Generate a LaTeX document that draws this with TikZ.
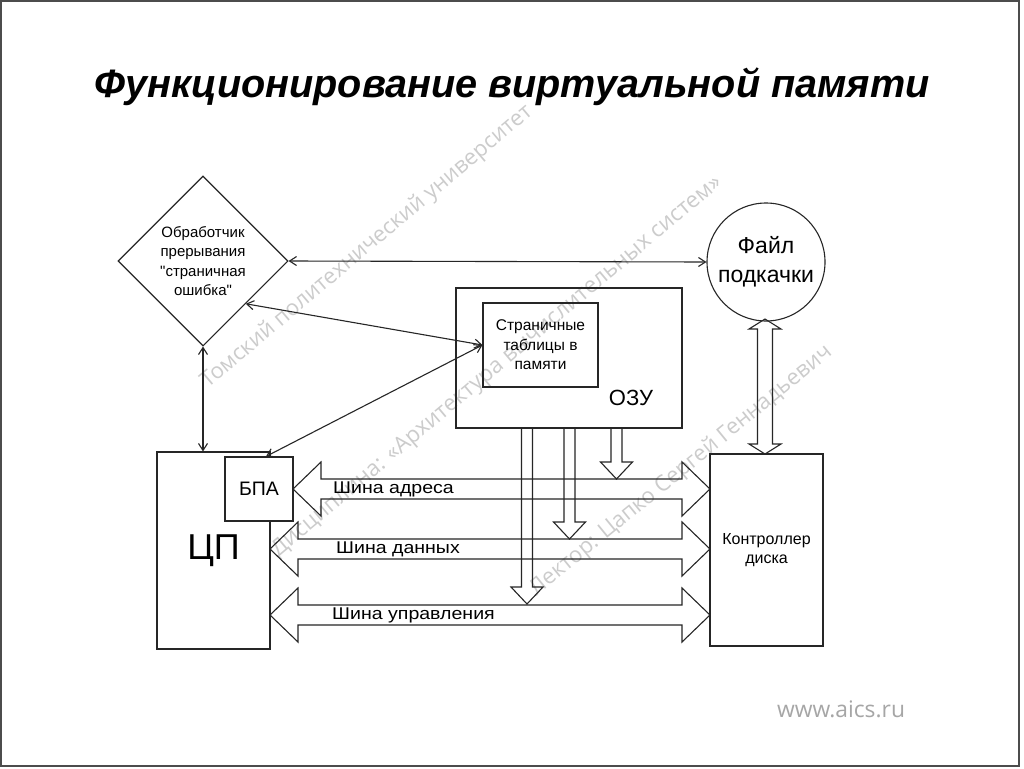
\documentclass[tikz,border=0pt]{standalone}
\usepackage{fontspec}
\setmainfont{Liberation Sans}[Ligatures=TeXOff]
\newfontfamily\wmfont{Open Sans}
\usepackage{graphicx}
\usetikzlibrary{arrows.meta,shapes.geometric}
\newcommand\myhbus[3]{%
  \draw[bus] (#1,#3) -- (#1+28,#3-27) -- (#1+28,#3-10) -- (#2-28,#3-10) -- (#2-28,#3-27) -- (#2,#3)
    -- (#2-28,#3+27) -- (#2-28,#3+10) -- (#1+28,#3+10) -- (#1+28,#3+27) -- cycle;}
\newcommand\mydown[3]{%
  \draw[bus] (#1-5.5,#2) -- (#1-5.5,#3-17) -- (#1-16,#3-17) -- (#1,#3) -- (#1+16,#3-17)
    -- (#1+5.5,#3-17) -- (#1+5.5,#2);}
\newcommand\myvdbl[3]{%
  \draw[bus] (#1,#2) -- (#1+16,#2+10) -- (#1+7.5,#2+10) -- (#1+7.5,#3-10) -- (#1+16,#3-10) -- (#1,#3)
    -- (#1-16,#3-10) -- (#1-7.5,#3-10) -- (#1-7.5,#2+10) -- (#1-16,#2+10) -- cycle;}
\begin{document}
\begin{tikzpicture}[x=1pt,y=-1pt,
  ln/.style={draw=black!85, line width=1.1pt},
  box/.style={ln, rectangle, inner sep=0pt},
  lbl/.style={font=\fontsize{15}{19.5}\selectfont, align=center},
  conn/.style={draw=black!85, line width=1.1pt, {Straight Barb[length=7pt,width=9pt]}-{Straight Barb[length=7pt,width=9pt]}},
  bus/.style={draw=black!85, line width=1.1pt, line join=miter},
  buslbl/.style={anchor=west, inner sep=0pt, font=\fontsize{17}{17}\selectfont},
  wm/.style={text=black!20, inner sep=0pt}]
\useasboundingbox (0,0) rectangle (1024,768);
\fill[white] (0,0) rectangle (1024,768);
\draw[black!70, line width=1.5pt] (1,1) rectangle (1019,766);
% watermarks
\node[wm, rotate=40.2] (wm1) at (367,247) {\resizebox{426pt}{!}{\wmfont Томский политехнический университет}};
\node[wm, rotate=40.0] (wm2) at (497,367) {\resizebox{580pt}{!}{\wmfont Дисциплина: «Архитектура вычислительных систем»}};
\node[wm, rotate=39.2] (wm3) at (681,471) {\resizebox{383pt}{!}{\wmfont Лектор: Цапко Сергей Геннадьевич}};
\node[text=black!35, inner sep=0pt] (site) at (841,709) {\resizebox{128pt}{!}{\wmfont www.aics.ru}};
% title
\node[inner sep=0pt] (title) at (512,87) {\resizebox{835pt}{!}{\bfseries\itshape Функционирование виртуальной памяти}};
% nodes
\node[box, diamond, aspect=1, minimum size=170pt, lbl] (isr) at (203,261) {Обработчик\\прерывания\\"страничная\\ошибка"};
\node[box, circle, minimum size=118pt, align=center, font=\fontsize{23}{29}\selectfont] (swap) at (766,262) {Файл\\подкачки};
\node[box, minimum width=226pt, minimum height=140pt] (ram) at (569,358) {};
\node[inner sep=0pt, font=\fontsize{22}{26}\selectfont] (ramlbl) at (631,398) {ОЗУ};
\node[box, minimum width=115pt, minimum height=84pt, lbl, font=\fontsize{15.5}{19.5}\selectfont] (pt) at (540.5,345) {Страничные\\таблицы в\\памяти};
\node[box, minimum width=113pt, minimum height=197pt, font=\fontsize{36}{36}\selectfont] (cpu) at (213.5,550.5) {ЦП};
\node[box, fill=white, minimum width=68pt, minimum height=64pt, font=\fontsize{19.5}{19.5}\selectfont] (bpa) at (259,489) {БПА};
\node[box, minimum width=113pt, minimum height=192pt, lbl, font=\fontsize{16}{19.5}\selectfont] (ctrl) at (766.5,550) {Контроллер\\диска};
% connectors
\draw[conn] (isr.east) -- (swap.west);
\draw[conn] (isr.south east) -- (pt.west);
\draw[conn] ([xshift=7pt]bpa.north) -- (pt.west);
\draw[conn] (isr.south) -- (isr.south |- cpu.north);
% buses
\myhbus{293}{710}{489}
\myhbus{270}{710}{549}
\myhbus{270}{710}{615}
\node[buslbl] (labA) at (333,489.5) {\scalebox{1.15}[1]{Шина адреса}};
\node[buslbl] (labD) at (336,549.5) {\scalebox{1.15}[1]{Шина данных}};
\node[buslbl] (labC) at (332,615.5) {\scalebox{1.15}[1]{Шина управления}};
% RAM outputs
\mydown{527}{428}{604}
\mydown{569.5}{428}{539}
\mydown{616.5}{428}{479}
% swap <-> controller
\myvdbl{765}{319}{454}
\end{tikzpicture}
\end{document}
